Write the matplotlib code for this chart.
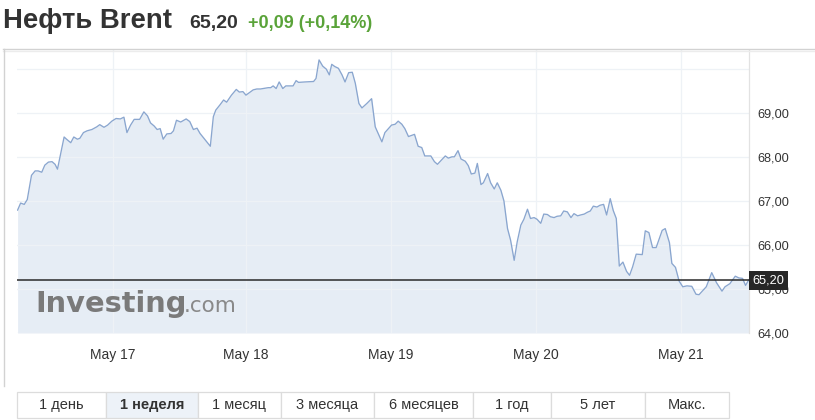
import matplotlib
matplotlib.use('Agg')
import matplotlib.pyplot as plt
import matplotlib.transforms as mtransforms
from matplotlib.patches import Rectangle
from matplotlib.lines import Line2D

# ---------------- data ----------------
hours = [-15.8, -15.3, -14.7, -14.2, -13.5, -12.9, -12.4, -11.8, -11.3, -10.7,
         -10.1, -9.6, -9.2, -8.1, -7.7, -7.0, -6.5, -5.9, -5.5, -4.9,
         -4.3, -3.5, -2.7, -2.2, -1.5, -0.9, -0.2, 0.5, 1.2, 1.8,
         2.3, 2.9, 3.5, 4.4, 5.1, 5.7, 6.2, 6.8, 7.3, 7.8,
         8.3, 8.9, 9.6, 10.0, 10.5, 11.2, 12.1, 12.7, 13.3, 13.9,
         14.4, 16.1, 16.6, 17.0, 17.7, 18.3, 18.8, 19.6, 20.4, 20.9,
         21.5, 22.0, 22.6, 23.2, 23.8, 24.4, 25.2, 25.7, 26.1, 26.5,
         27.0, 27.5, 28.1, 28.6, 29.4, 29.8, 30.3, 30.7, 31.8, 33.2,
         33.6, 34.1, 34.7, 35.3, 35.8, 36.2, 36.7, 37.3, 37.9, 38.4,
         39.0, 39.6, 40.1, 40.7, 41.2, 42.0, 42.8, 43.4, 44.5, 45.0,
         46.1, 46.7, 47.2, 47.8, 48.3, 48.9, 49.9, 50.5, 51.1, 51.6,
         52.6, 53.2, 53.7, 55.0, 55.5, 56.1, 56.5, 57.1, 57.6, 58.3,
         58.8, 59.3, 59.9, 60.3, 60.9, 61.3, 62.0, 62.5, 63.1, 63.6,
         64.2, 64.7, 65.3, 65.8, 66.4, 66.9, 67.5, 68.0, 68.6, 69.1,
         69.7, 70.2, 70.8, 71.3, 71.9, 72.4, 73.0, 73.5, 74.1, 74.6,
         75.2, 75.8, 76.3, 76.9, 77.4, 78.0, 78.5, 79.0, 79.5, 80.1,
         80.6, 81.2, 81.7, 82.3, 82.8, 83.3, 83.8, 84.4, 85.0, 85.5,
         86.0, 86.6, 87.6, 88.1, 88.7, 89.3, 89.9, 90.9, 91.4, 92.1,
         92.5, 93.1, 93.7, 94.3, 95.0, 95.8, 96.5, 97.0, 98.2, 99.1,
         99.9, 100.8, 101.3, 102.1, 103.0, 103.6, 104.2, 104.7, 105.2]

prices = [66.79, 66.95, 66.92, 67.03, 67.58, 67.68, 67.68, 67.65, 67.81, 67.88,
          67.89, 67.83, 67.72, 68.45, 68.40, 68.32, 68.45, 68.40, 68.42, 68.55,
          68.59, 68.62, 68.68, 68.73, 68.67, 68.72, 68.81, 68.87, 68.86, 68.90,
          68.55, 68.72, 68.85, 68.85, 69.02, 68.93, 68.77, 68.70, 68.62, 68.64,
          68.40, 68.52, 68.53, 68.59, 68.83, 68.79, 68.86, 68.80, 68.62, 68.65,
          68.53, 68.24, 68.91, 69.06, 69.18, 69.29, 69.24, 69.40, 69.53, 69.47,
          69.48, 69.40, 69.46, 69.52, 69.54, 69.54, 69.56, 69.57, 69.57, 69.61,
          69.55, 69.70, 69.55, 69.61, 69.61, 69.61, 69.73, 69.69, 69.70, 69.71,
          69.78, 70.20, 70.06, 69.99, 69.86, 70.10, 70.05, 70.01, 69.86, 69.70,
          69.91, 69.92, 69.67, 69.21, 69.11, 69.21, 69.32, 68.68, 68.34, 68.55,
          68.72, 68.74, 68.81, 68.74, 68.64, 68.46, 68.51, 68.24, 68.21, 68.02,
          68.02, 67.89, 67.83, 68.02, 67.97, 68.00, 68.00, 68.14, 67.95, 67.90,
          67.80, 67.61, 67.63, 67.85, 67.37, 67.41, 67.62, 67.41, 67.27, 67.41,
          67.24, 67.00, 66.37, 66.11, 65.65, 66.07, 66.45, 66.58, 66.81, 66.60,
          66.62, 66.58, 66.49, 66.70, 66.69, 66.64, 66.62, 66.65, 66.66, 66.77,
          66.75, 66.62, 66.71, 66.66, 66.68, 66.70, 66.74, 66.77, 66.88, 66.86,
          66.90, 66.92, 66.68, 67.05, 66.78, 66.60, 65.52, 65.61, 65.40, 65.31,
          65.50, 65.79, 65.78, 66.32, 66.28, 65.94, 65.94, 66.33, 66.37, 66.05,
          65.58, 65.49, 65.18, 65.05, 65.07, 65.06, 64.88, 64.87, 65.05, 65.37,
          65.14, 64.95, 65.05, 65.12, 65.29, 65.25, 65.24, 65.08, 65.20]

last_price = 65.20
tick_hours = [0, 22, 46, 70, 94]
tick_labels = ['May 17', 'May 18', 'May 19', 'May 20', 'May 21']
y_ticks = [64, 65, 66, 67, 68, 69, 70]
y_tick_labels = ['64,00', '65,00', '66,00', '67,00', '68,00', '69,00', '']
y_range = (64, 70.425)
x_range = (-15.9, 105.27)

title = 'Нефть Brent'
price_text = '65,20'
change_text = '+0,09 (+0,14%)'
last_label = '65,20'
periods = ['1 день', '1 неделя', '1 месяц', '3 месяца', '6 месяцев', '1 год', '5 лет', 'Макс.']
active_period = '1 неделя'

# ---------------- style / layout ----------------
W, H = 815, 420
FONT = 'Liberation Sans'
TXT = '#333333'
LINE_C = '#8aa6cf'
FILL_C = '#e6edf5'
GRID_C = '#eef2f6'


def fx(px):
    return px / W


def fy(py):
    return 1 - py / H


fig = plt.figure(figsize=(W / 100, H / 100), dpi=100)
fig.patch.set_facecolor('white')

ax_l, ax_r, ax_t, ax_b = 17, 749, 50, 333
ax = fig.add_axes([fx(ax_l), fy(ax_b), (ax_r - ax_l) / W, (ax_b - ax_t) / H])
ax.set_facecolor('white')

ax.fill_between(hours, prices, y_range[0], color=FILL_C, lw=0, zorder=1)
ax.plot(hours, prices, color=LINE_C, lw=0.95, zorder=3, solid_joinstyle='round')
ax.axhline(last_price, color='#2a2a2a', lw=1.1, zorder=4)

ax.set_xlim(*x_range)
ax.set_ylim(*y_range)
ax.set_xticks(tick_hours, tick_labels)
ax.set_yticks(y_ticks, y_tick_labels)
ax.yaxis.tick_right()
ax.set_axisbelow('line')
ax.grid(True, color=GRID_C, lw=0.9)
ax.tick_params(axis='both', length=0, colors=TXT)
ax.tick_params(axis='x', pad=11, labelsize=10)
ax.tick_params(axis='y', pad=6, labelsize=9.2)
for lab in ax.get_xticklabels() + ax.get_yticklabels():
    lab.set_fontfamily(FONT)
for s in ['top', 'left', 'bottom']:
    ax.spines[s].set_visible(False)
ax.spines['right'].set_color('#e2e2e2')
ax.spines['right'].set_linewidth(0.9)

# last price label box
trans = mtransforms.blended_transform_factory(ax.transAxes, ax.transData)
trans = mtransforms.offset_copy(trans, fig=fig, x=3.5, y=0, units='dots')
ax.text(1.0, last_price, last_label, transform=trans, ha='left', va='center',
        color='white', fontsize=9.2, family=FONT, zorder=10, clip_on=False,
        bbox=dict(boxstyle='square,pad=0.28', fc='#262626', ec='none'))

# watermark
fig.text(fx(35), fy(311.5), 'Investing', family='DejaVu Sans', fontweight='bold',
         fontsize=20.8, color='#7a7a7a', va='baseline', ha='left')
fig.text(fx(184), fy(311.5), '.com', family='DejaVu Sans', fontsize=15.5,
         color='#898989', va='baseline', ha='left')

# header
fig.text(fx(3), fy(27.7), title, family=FONT, fontweight='bold', fontsize=19.8,
         color=TXT, va='baseline', ha='left')
fig.text(fx(189), fy(27.7), price_text, family=FONT, fontweight='bold', fontsize=14,
         color=TXT, va='baseline', ha='left')
fig.text(fx(248), fy(27.7), change_text, family=FONT, fontweight='bold', fontsize=13,
         color='#5aa339', va='baseline', ha='left')

# frame lines
fig.add_artist(Line2D([fx(3), 1], [fy(49.3), fy(49.3)], color='#d2d2d2', lw=1.0))
fig.add_artist(Line2D([fx(3), 1], [fy(50.5), fy(50.5)], color='#ececec', lw=1.0))
fig.add_artist(Line2D([fx(3.5), fx(3.5)], [fy(49.3), fy(386)], color='#d2d2d2', lw=1.0))

# period buttons
edges = [17, 106, 197.5, 280.7, 374, 473, 551, 644.5, 729]
b_top, b_bot = 392, 417.5
for i, name in enumerate(periods):
    x0, x1 = edges[i], edges[i + 1]
    active = (name == active_period)
    fig.add_artist(Rectangle((fx(x0), fy(b_bot)), (x1 - x0) / W, (b_bot - b_top) / H,
                             transform=fig.transFigure,
                             fc='#edf2f8' if active else 'white', ec='#dcdcdc', lw=0.9))
    fig.text(fx((x0 + x1) / 2), fy((b_top + b_bot) / 2 + 0.5), name, family=FONT,
             fontsize=10.5, fontweight='bold' if active else 'normal',
             color=TXT, ha='center', va='center')

fig.savefig('out.png', dpi=100, facecolor='white')
